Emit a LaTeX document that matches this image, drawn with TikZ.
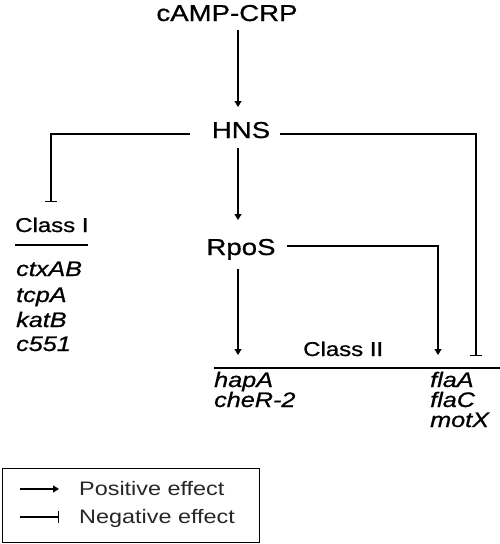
\documentclass[tikz,border=0pt]{standalone}
\usepackage{fontspec}
\setmainfont[FakeStretch=1.2,FakeBold=0.8]{Liberation Sans}
\newfontfamily\legfont[FakeStretch=1.2]{Liberation Sans}
\usetikzlibrary{arrows.meta}
\tikzset{
  conn/.style={line width=1.1pt},
  arr/.style={conn,-{Triangle[length=6pt,width=7pt]}},
  inh/.style={conn,-{Bar[width=12pt,line width=1.1pt]}},
  big/.style={inner sep=0pt,font=\fontsize{23}{27}\selectfont,anchor=base},
  cls/.style={inner sep=0pt,font=\fontsize{20}{24}\selectfont,anchor=base west},
  gene/.style={inner sep=0pt,font=\fontsize{21}{25}\selectfont\itshape,anchor=base west},
  leg/.style={inner sep=0pt,font=\legfont\fontsize{19.5}{23}\selectfont,anchor=base west,text=black!85}
}
\begin{document}
\begin{tikzpicture}[x=1pt,y=-1pt]
\useasboundingbox (0,0) rectangle (500,544);
% main nodes
\node[big] (camp) at (227,21) {cAMP-CRP};
\node[big] (hns) at (241,138) {HNS};
\node[big] (rpos) at (241,255) {RpoS};
% class I
\node[cls] (c1) at (15,232) {Class I};
\coordinate (c1l) at (15,245);
\coordinate (c1r) at (88,245);
\draw[line width=1.3pt] (c1l) -- (c1r);
\node[gene] (g1) at (16,276) {ctxAB};
\node[gene] (g2) at (16,302) {tcpA};
\node[gene] (g3) at (16,327) {katB};
\node[gene] (g4) at (16,351) {c551};
% class II
\node[cls] (c2) at (303,356) {Class II};
\coordinate (c2l) at (214,368);
\coordinate (c2r) at (500,368);
\draw[line width=1.3pt] (c2l) -- (c2r);
\node[gene] (h1) at (214,387) {hapA};
\node[gene] (h2) at (214,407) {cheR-2};
\node[gene] (f1) at (430,387) {flaA};
\node[gene] (f2) at (430,407) {flaC};
\node[gene] (f3) at (430,427) {motX};
% coordinates for connectors
\coordinate (a1s) at (238,30);
\coordinate (a1e) at (238,107);
\coordinate (a2s) at (238,148);
\coordinate (a2e) at (238,220);
\coordinate (a3s) at (238,269);
\coordinate (a3e) at (238,355);
\coordinate (hl) at (190,134);
\coordinate (hlc) at (51,134);
\coordinate (hle) at (51,202);
\coordinate (hr) at (280,134);
\coordinate (hrc) at (476,134);
\coordinate (hre) at (476,356);
\coordinate (rr) at (287,246);
\coordinate (rrc) at (438,246);
\coordinate (rre) at (438,355);
% connectors
\draw[arr] (a1s) -- (a1e);
\draw[arr] (a2s) -- (a2e);
\draw[arr] (a3s) -- (a3e);
\draw[inh] (hl) -- (hlc) -- (hle);
\draw[inh] (hr) -- (hrc) -- (hre);
\draw[arr] (rr) -- (rrc) -- (rre);
% legend
\node[draw,line width=1.4pt,minimum width=257pt,minimum height=74pt,inner sep=0pt,anchor=north west] (legbox) at (2,468) {};
\coordinate (lp1) at (20,489);
\coordinate (lp2) at (59,489);
\coordinate (ln1) at (20,517);
\coordinate (ln2) at (59,517);
\draw[arr] (lp1) -- (lp2);
\draw[inh] (ln1) -- (ln2);
\node[leg] (lpos) at (79,495) {Positive effect};
\node[leg] (lneg) at (79,523) {Negative effect};
\end{tikzpicture}
\end{document}
